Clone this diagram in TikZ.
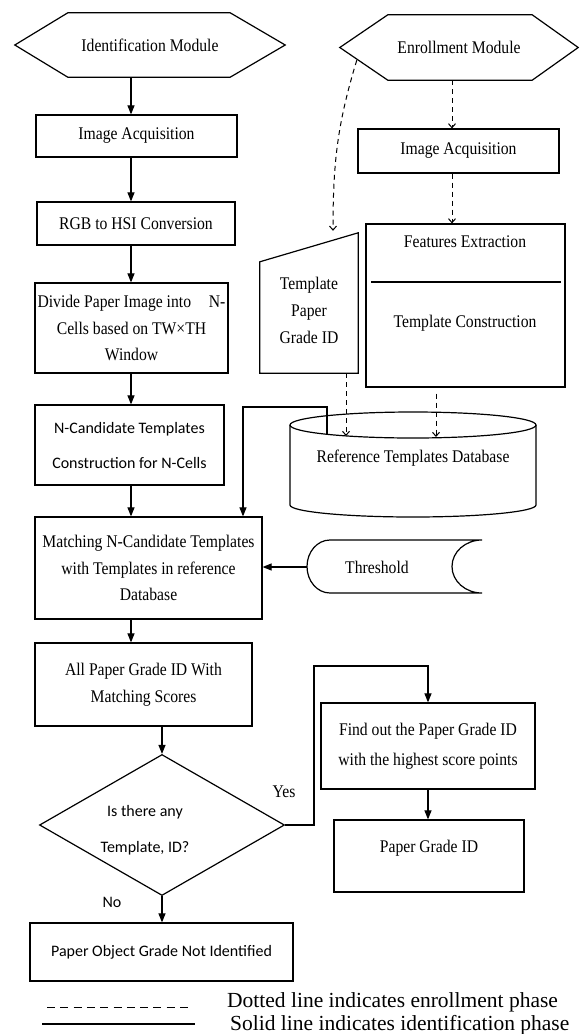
\documentclass[tikz,border=0pt]{standalone}
\usepackage{fontspec}
\setmainfont{Liberation Serif}
\newfontfamily\boxfont[FakeStretch=0.88]{Liberation Serif}
\newfontfamily\calfont{Carlito}
\usetikzlibrary{arrows.meta,shapes.geometric}

\begin{document}
\begin{tikzpicture}[x=1pt,y=-1pt,
	box/.style={draw, line width=1.2pt, inner sep=0pt, align=center, font=\boxfont\fontsize{17.8}{26.5}\selectfont},
	cbox/.style={box, font=\calfont\fontsize{16}{35}\selectfont},
	txt/.style={inner sep=0pt, align=center, font=\boxfont\fontsize{17.8}{27}\selectfont},
	ctxt/.style={txt, font=\calfont\fontsize{16}{36}\selectfont},
	shp/.style={line width=1.2pt},
	arr/.style={-{Triangle[length=9pt,width=7pt]}, line width=1.1pt},
	darr/.style={-{Straight Barb[length=4pt,width=7pt]}, line width=1pt, dash pattern=on 5pt off 4pt}]
	\useasboundingbox (0,0) rectangle (579,1034);

	% identification module
	\node[txt, minimum width=270pt, minimum height=64pt] (idmod) at (150,45) {Identification Module};
	\draw[shp] (idmod.west) -- ([xshift=53pt]idmod.north west) -- ([xshift=-55pt]idmod.north east) -- (idmod.east)
		-- ([xshift=-55pt]idmod.south east) -- ([xshift=53pt]idmod.south west) -- cycle;
	\node[box, minimum width=201pt, minimum height=42pt] (idacq) at (136.5,136) {Image Acquisition};
	\node[box, minimum width=198pt, minimum height=43pt] (rgb) at (136,223.5) {RGB to HSI Conversion};
	\node[box, minimum width=193pt, minimum height=90pt] (divide) at (131.5,328) {Divide Paper Image into\quad N-\\Cells based on TW×TH\\Window};
	\node[cbox, minimum width=189pt, minimum height=80pt] (ncand) at (129.5,445) {N-Candidate Templates\\Construction for N-Cells};
	\node[box, minimum width=227pt, minimum height=102pt] (match) at (148.5,568) {Matching N-Candidate Templates\\with Templates in reference\\Database};
	\node[box, minimum width=217pt, minimum height=83pt] (allid) at (143.5,684.5) {All Paper Grade ID With\\Matching Scores};
	\node[draw, diamond, line width=1.2pt, minimum width=245pt, minimum height=141pt] (dec) at (162,825) {};
	\node[ctxt] (dectxt) at (145,830) {Is there any\\Template, ID?};
	\node[txt] (yes) at (284,792) {Yes};
	\node[ctxt] (no) at (112,902) {No};
	\node[cbox, minimum width=263pt, minimum height=58pt] (notid) at (161.5,952) {Paper Object Grade Not Identified};

	% enrollment module
	\node[txt, minimum width=238pt, minimum height=65pt] (enmod) at (459,47.5) {Enrollment Module};
	\draw[shp] (enmod.west) -- ([xshift=48pt]enmod.north west) -- ([xshift=-46pt]enmod.north east) -- (enmod.east)
		-- ([xshift=-46pt]enmod.south east) -- ([xshift=48pt]enmod.south west) -- cycle;
	\node[box, minimum width=201pt, minimum height=44pt] (enacq) at (458.5,151) {Image Acquisition};
	\node[box, minimum width=199pt, minimum height=163pt] (feat) at (465.5,305.5) {};
	\node[txt] (fext) at (465,242) {Features Extraction};
	\draw[shp] (371,282) -- (561,282);
	\node[txt] (tcons) at (465,323) {Template Construction};
	\node[txt, minimum width=98pt, minimum height=126pt] (tpg) at (309,310) {Template\\Paper\\Grade ID};
	\draw[shp] (tpg.south west) -- ([yshift=-15pt]tpg.north west) -- ([yshift=14pt]tpg.north east) -- (tpg.south east) -- cycle;

	% database
	\draw[shp] (413,425) ellipse[x radius=123pt, y radius=13pt];
	\draw[shp] (290,425) -- (290,505) arc[start angle=180, end angle=360, x radius=123pt, y radius=12pt] -- (536,425);
	\node[txt] (db) at (413,458) {Reference Templates Database};

	% threshold
	\node[txt, minimum width=140pt, minimum height=53pt] (thr) at (377,567) {Threshold};
	\draw[shp] (482,540) -- (330,540) arc[start angle=90, end angle=270, x radius=23pt, y radius=26.5pt]
		-- (482,593) arc[start angle=-90, end angle=-270, x radius=30pt, y radius=26.5pt];

	\node[box, minimum width=214pt, minimum height=86pt] (find) at (428,746) {Find out the Paper Grade ID\\[3pt]with the highest score points};
	\node[box, minimum width=190pt, minimum height=72pt, text depth=20pt] (pgid) at (429,856) {Paper Grade ID};

	% identification phase
	\coordinate (lane) at (131,0);
	\draw[arr] (idmod.south -| lane) -- (idacq.north -| lane);
	\draw[arr] (idacq.south -| lane) -- (rgb.north -| lane);
	\draw[arr] (rgb.south -| lane) -- (divide.north -| lane);
	\draw[arr] (divide.south -| lane) -- (ncand.north -| lane);
	\draw[arr] (ncand.south -| lane) -- (match.north -| lane);
	\draw[arr] (match.south -| lane) -- (allid.north -| lane);
	\draw[arr] (allid.south -| dec.north) -- (dec.north);
	\draw[arr] (dec.south) -- (dec.south |- notid.north);
	\draw[arr] (thr.west) -- (thr.west -| match.east);
	\coordinate (dbout) at (327,434);
	\coordinate (dbturn) at (243,407);
	\draw[arr] (dbout) |- (dbturn) -- (dbturn |- match.north);
	\coordinate (yesturn) at (314,666);
	\draw[arr] (dec.east) -| (yesturn) -| (find.north);
	\draw[arr] (find.south) -- (find.south |- pgid.north);

	% enrollment phase
	\coordinate (en1) at ([xshift=-7pt]enmod.south);
	\coordinate (en2) at ([xshift=-6.5pt]enacq.south);
	\draw[darr] (en1) -- (en1 |- enacq.north);
	\draw[darr] (en2) -- (en2 |- feat.north);
	\draw[darr] ([xshift=17pt,yshift=20pt]enmod.south west) to[out=253, in=90] ([xshift=24pt,yshift=16pt]tpg.north);
	\coordinate (dbin1) at (346,436);
	\coordinate (dbin2) at (436,437);
	\draw[darr] (dbin1 |- tpg.south) -- (dbin1);
	\draw[darr, shorten <=6pt] (dbin2 |- feat.south) -- (dbin2);

	% legend
	\draw[line width=1pt, dash pattern=on 8pt off 5.3pt] (47,1007) -- (193,1007);
	\draw[line width=2pt] (42,1024) -- (195,1024);
	\node[anchor=west, inner sep=0pt, font=\fontsize{21.5}{24}\selectfont] (leg1) at (227,1002) {Dotted line indicates enrollment phase};
	\node[anchor=west, inner sep=0pt, font=\fontsize{21.5}{24}\selectfont] (leg2) at (230,1025) {Solid line indicates identification phase};
\end{tikzpicture}
\end{document}
